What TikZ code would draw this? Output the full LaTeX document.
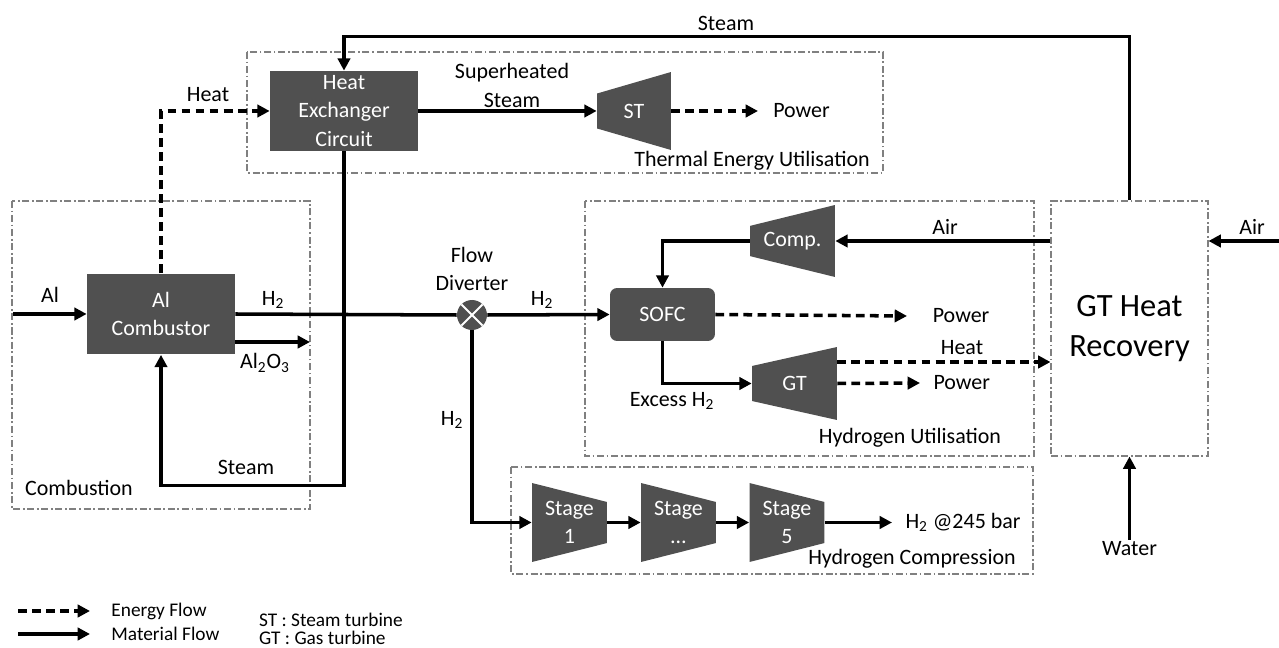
\documentclass[tikz,border=0pt]{standalone}
\usepackage{fontspec}
\setmainfont{Carlito}
\usetikzlibrary{positioning, arrows.meta, calc}
\definecolor{boxgray}{RGB}{80,80,80}

\begin{document}
\begin{tikzpicture}[x=0.02cm, y=-0.02cm, font=\fontsize{12.5}{16}\selectfont,
  unit/.style = {fill=boxgray, text=white, align=center, inner sep=0pt},
  expander/.style = {inner sep=0pt, text=white, align=center,
    path picture={\fill[boxgray] ($(path picture bounding box.north west)!#1!(path picture bounding box.south west)$)
      -- (path picture bounding box.north east) -- (path picture bounding box.south east)
      -- ($(path picture bounding box.south west)!#1!(path picture bounding box.north west)$) -- cycle;}},
  compressor/.style = {inner sep=0pt, text=white, align=center,
    path picture={\fill[boxgray] (path picture bounding box.north west)
      -- ($(path picture bounding box.north east)!#1!(path picture bounding box.south east)$)
      -- ($(path picture bounding box.south east)!#1!(path picture bounding box.north east)$)
      -- (path picture bounding box.south west) -- cycle;}},
  region/.style = {draw=gray, line width=0.6pt, dash pattern=on 4pt off 1.5pt on 1pt off 1.5pt},
  flow/.style = {line width=2pt, -{Triangle[length=7pt,width=7pt]}},
  energy/.style = {flow, dash pattern=on 5pt off 3pt},
  lbl/.style = {align=center, inner sep=1pt},
  legend/.style = {lbl, anchor=west, font=\fontsize{11}{13}\selectfont}]
\useasboundingbox (0,0) rectangle (1279,648);

% regions
\draw[region] (247,52) rectangle (883,173);
\draw[region] (12,201) rectangle (310,509);
\draw[region] (585,201) rectangle (1034,456);
\draw[region] (511,467) rectangle (1033,574);
\node[region, minimum width=3.14cm, minimum height=5.1cm, align=center, font=\fontsize{18.5}{23}\selectfont] (ghr) at (1129.5,328.5) {GT Heat\\Recovery};

% units
\node[unit, minimum width=2.96cm, minimum height=1.6cm] (hx) at (344,111) {Heat\\Exchanger\\Circuit};
\node[unit, minimum width=2.96cm, minimum height=1.62cm] (comb) at (161,314) {Al\\Combustor};
\node[unit, rounded corners=4pt, minimum width=2.1cm, minimum height=1.06cm] (sofc) at (662.5,314.5) {SOFC};
\node[expander=0.276, minimum width=1.48cm, minimum height=1.56cm] (st) at (634,111) {ST};
\node[expander=0.29, minimum width=1.7cm, minimum height=1.44cm] (comp) at (792.5,241) {Comp.};
\node[expander=0.26, minimum width=1.7cm, minimum height=1.46cm] (gt) at (794.5,383.5) {GT};
\node[compressor=0.24, minimum width=1.5cm, minimum height=1.58cm] (s1) at (569.5,522.5) {Stage\\1};
\node[compressor=0.24, minimum width=1.5cm, minimum height=1.58cm] (s2) at (678.5,522.5) {Stage\\\dots};
\node[compressor=0.24, minimum width=1.5cm, minimum height=1.58cm] (s5) at (787,522.5) {Stage\\5};
\node[circle, fill=boxgray, minimum size=0.6cm, inner sep=0pt,
  path picture={\draw[white, line width=1.2pt] (path picture bounding box.north west) -- (path picture bounding box.south east)
    (path picture bounding box.north east) -- (path picture bounding box.south west);}] (fd) at (472,315) {};

% labels
\node[lbl] (steamtop) at (726,23) {Steam};
\node[lbl] (heat1) at (208,95) {Heat};
\node[lbl] (shs) at (512,85.5) {Superheated\\Steam};
\node[lbl] (teu) at (752,161) {Thermal Energy Utilisation};
\node[lbl] (al) at (50,295) {Al};
\node[lbl] (h2a) at (273,300) {H\textsubscript{2}};
\node[lbl] (alo) at (265,363) {Al\textsubscript{2}O\textsubscript{3}};
\node[lbl] (steamret) at (246,467) {Steam};
\node[lbl] (combl) at (79,488) {Combustion};
\node[lbl] (fdl) at (472,269) {Flow\\Diverter};
\node[lbl] (h2b) at (542,300) {H\textsubscript{2}};
\node[lbl] (h2c) at (452,420) {H\textsubscript{2}};
\node[lbl] (air1) at (945,227) {Air};
\node[lbl] (air2) at (1252,227) {Air};
\node[lbl] (heat2) at (962,348) {Heat};
\node[lbl] (exh2) at (672,401) {Excess H\textsubscript{2}};
\node[lbl] (hul) at (910,438) {Hydrogen Utilisation};
\node[lbl] (hcl) at (912,559) {Hydrogen Compression};
\node[lbl] (water) at (1129.5,549) {Water};
\node[lbl, anchor=west, inner xsep=8.5pt] (pow1) at (758,111) {Power};
\node[lbl, anchor=west, inner xsep=14.5pt] (pow2) at (907,316) {Power};
\node[lbl, anchor=west, inner xsep=7.5pt] (pow3) at (920,383) {Power};
\node[lbl, anchor=west, inner xsep=7.5pt] (h2out) at (892,522.5) {H\textsubscript{2} @245 bar};

\coordinate (alin) at (13,314);
\coordinate (aloend) at (310,342);
\coordinate (airin) at (1279,241);
\coordinate (gtheat) at ([yshift=0.43cm]gt.east);

% connectors
\draw[flow] (ghr.north) -- ++(0,-164) -| (hx.north);
\draw[energy] (comb.north) |- (hx.west);
\draw[flow] (hx.east) -- (st.west);
\draw[energy] (st.east) -- (pow1.west);
\draw[flow] (alin) -- (comb.west);
\draw[line width=2pt] (comb.east) -- (fd.west);
\draw[flow] (comb.east |- aloend) -- (aloend);
\draw[flow] (hx.south) -- ++(0,334) -| (comb.south);
\draw[flow] (fd.east) -- (sofc.west);
\draw[flow] (fd.south) |- (s1.west);
\draw[flow] (s1.east) -- (s2.west);
\draw[flow] (s2.east) -- (s5.west);
\draw[flow] (s5.east) -- (h2out.west);
\draw[flow] (ghr.west |- comp.east) -- (comp.east);
\draw[flow] (airin) -- (ghr.east |- airin);
\draw[flow] (comp.west) -| (sofc.north);
\draw[flow] (sofc.south) |- (gt.west);
\draw[energy] (sofc.east) -- (pow2.west);
\draw[energy] (gtheat) -- (gtheat -| ghr.west);
\draw[energy] (gt.east) -- (pow3.west);
\draw[flow] (water.north) -- (ghr.south);

% legend
\node[legend, inner xsep=12pt] (legE) at (90,611) {Energy Flow};
\node[legend, inner xsep=12pt] (legM) at (90,634) {Material Flow};
\coordinate (legEs) at (18,611);
\coordinate (legMs) at (18,634);
\draw[energy] (legEs) -- (legE.west);
\draw[flow] (legMs) -- (legM.west);
\node[legend] (legST) at (257,620) {ST : Steam turbine};
\node[legend] (legGT) at (257,638) {GT : Gas turbine};
\end{tikzpicture}
\end{document}
